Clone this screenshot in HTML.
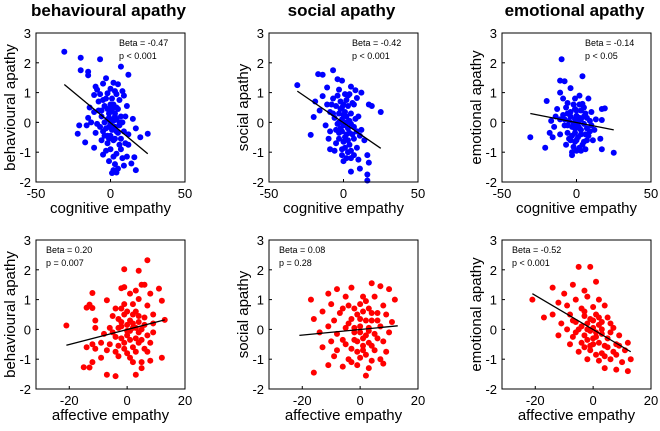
<!DOCTYPE html>
<html><head><meta charset="utf-8"><style>
body{margin:0;background:#fff;width:660px;height:426px;overflow:hidden}
svg{font-family:"Liberation Sans",Arial,sans-serif}
</style></head><body>
<svg id="c" width="660" height="426"></svg>
<script>
const titles=["behavioural apathy","social apathy","emotional apathy"];
const xLabels=["cognitive empathy","affective empathy"];
const yTicks=[-2,-1,0,1,2,3];
const xTicksTop=[-50,0,50];
const xTicksBot=[-20,0,20];
const betas=[["Beta = -0.47","p < 0.001"],["Beta = -0.42","p < 0.001"],["Beta = -0.14","p < 0.05"],["Beta = 0.20","p = 0.007"],["Beta = 0.08","p = 0.28"],["Beta = -0.52","p < 0.001"]];
const fitLines=[[-31,1.27,25,-1.05],[-31,1.05,25,-0.87],[-31,0.3,25,-0.25],[-21,-0.53,13,0.32],[-21,-0.2,13,0.12],[-21,1.2,13,-0.75]];
const ptsTL=[[-31,2.37],[-20,2.17],[-7,2.12],[7,1.87],[12,1.6],[-20,1.75],[-15,1.7],[-15,1.58],[-3,1.48],[2,1.33],[5,1.28],[-5,1.3],[-10,1.2],[-9,1.1],[0,1.13],[3,1.05],[8,1.05],[-11,0.92],[-7,0.95],[-2,0.98],[4,0.95],[9,0.9],[-8,0.7],[-4,0.55],[0,0.6],[6,0.75],[11,0.55],[-14,0.5],[-11,0.35],[-2,0.45],[1,0.38],[3,0.3],[7,0.2],[-15,0.15],[-6,0.2],[-1,0.15],[4,0.1],[10,0.2],[15,0.12],[-21,-0.1],[-16,-0.1],[-9,-0.05],[-4,0],[0,-0.05],[3,-0.15],[6,-0.1],[-22,-0.38],[-10,-0.35],[-5,-0.3],[1,-0.25],[5,-0.35],[9,-0.3],[17,-0.2],[20,-0.5],[25,-0.38],[-17,-0.67],[-11,-0.85],[-6,-0.6],[-2,-0.7],[2,-0.6],[7,-0.55],[12,-0.75],[-5,-1.08],[0,-0.9],[4,-1.05],[8,-1.2],[11,-1.15],[16,-1.17],[-1,-1.3],[3,-1.4],[9,-1.45],[14,-1.38],[2,-1.6],[5,-1.55],[1,-1.7],[4,-1.68],[17,-1.6],[-3,-0.2],[2,0.05],[-1,0.3],[0,-0.45],[5,0.45],[-7,-0.15],
[-3,0.8],[1,0.8],[-6,0.4],[2,0.6],[4,0.5],[-2,0.1],[1,0.1],[3,0.2],[-4,-0.45],[-1,-0.55],[3,-0.55],[6,-0.75],[-3,-0.95],[2,-1.15],[7,-0.9],[-8,0.4],[-13,0.0],[8,0.0],[12,-0.4],[-1,-0.15],[4,-0.3],[-5,0.75],[6,0.0],[1,0.5],[-2,-0.45],[10,-0.7]];
const ptsTM=[[-31,1.25],[-7,1.75],[-17,1.62],[-14,1.6],[-4,1.45],[-1,1.4],[5,1.2],[8,1.08],[-11,1.17],[-3,1.1],[1,0.95],[4,0.95],[12,1.0],[-14,0.88],[-7,0.8],[-2,0.7],[2,0.75],[9,0.82],[-19,0.7],[-11,0.6],[-5,0.55],[3,0.55],[7,0.6],[17,0.6],[19,0.55],[25,0.35],[-16,0.4],[-9,0.35],[-3,0.3],[1,0.35],[5,0.3],[10,0.2],[-20,0.18],[-6,0.15],[-1,0.1],[4,0.05],[8,0.12],[-12,-0.1],[-4,-0.05],[0,-0.1],[3,-0.2],[7,-0.15],[12,-0.25],[-22,-0.42],[-9,-0.3],[-3,-0.35],[2,-0.4],[6,-0.4],[11,-0.45],[14,-0.6],[-10,-0.55],[-5,-0.7],[0,-0.65],[4,-0.75],[9,-0.85],[-9,-0.9],[-6,-0.95],[-1,-0.9],[3,-1.0],[7,-1.1],[16,-1.1],[0,-1.3],[5,-1.2],[10,-1.25],[17,-1.35],[5,-1.65],[11,-1.55],[16,-1.75],[16,-1.95],[2,0.2],[-2,-0.2],[1,-0.5],[-1,0.5],
[-4,0.9],[0,0.6],[3,0.9],[-7,0.3],[-2,0.45],[2,0.0],[5,-0.05],[-5,-0.25],[-1,-0.3],[3,-0.6],[7,-0.55],[-3,-0.55],[1,-0.85],[5,-0.95],[-1,-1.1],[9,-0.3],[-8,0.6],[6,0.65],[0,0.25],[-3,0.0],[4,-0.35],[2,-1.2]];
const ptsTR=[[-10,2.12],[4,1.55],[-11,1.4],[-8,1.38],[-4,1.15],[-11,1.0],[2,0.9],[-9,0.8],[-1,0.8],[8,0.8],[-20,0.72],[-6,0.65],[4,0.62],[17,0.45],[19,0.47],[-13,0.45],[-7,0.5],[-1,0.45],[3,0.4],[10,0.35],[-14,0.2],[-9,0.25],[-4,0.2],[0,0.22],[6,0.3],[13,0.1],[-17,0.05],[-11,0.1],[-5,0.05],[1,0.0],[5,-0.05],[9,0.05],[17,0.08],[-15,-0.15],[-8,-0.1],[-3,-0.15],[2,-0.2],[7,-0.2],[12,-0.25],[-31,-0.5],[-18,-0.35],[-11,-0.4],[-6,-0.35],[-1,-0.35],[3,-0.4],[8,-0.45],[16,-0.55],[-16,-0.5],[-4,-0.6],[0,-0.6],[5,-0.65],[11,-0.6],[-21,-0.85],[-7,-0.75],[-2,-0.82],[2,-0.85],[6,-0.9],[17,-0.9],[-3,-1.0],[-3,-1.1],[0,-0.95],[25,-1.02],[1,-0.1],[-1,0.1],[3,0.1],
[-2,0.6],[2,0.6],[5,0.5],[-4,0.35],[0,0.4],[7,0.15],[-6,-0.1],[-1,-0.2],[3,-0.25],[6,-0.4],[-3,-0.45],[1,-0.5],[4,-0.75],[-5,-0.55],[9,-0.3],[-8,0.1],[-2,-0.05],[2,0.15],[5,0.2],[-1,-0.65],[7,-0.6],[3,-0.95],[-6,0.3],[10,-0.1]];
const ptsBL=[[7,2.32],[-1,2.02],[4,1.97],[6,1.5],[5,1.5],[-12,1.22],[-1,1.42],[1,1.2],[-2,1.38],[3,1.3],[8,1.2],[11,1.37],[-7,0.98],[4,1.02],[7,0.8],[12,0.96],[-13,0.83],[-12,0.72],[-14,0.73],[-4,0.7],[-2,0.7],[0,0.6],[2,0.5],[6,0.4],[9,0.5],[-11,0.3],[-5,0.45],[-3,0.35],[1,0.3],[4,0.25],[9,0.2],[13,0.32],[-21,0.13],[-11,0.05],[-6,0.05],[-2,0.1],[2,0.05],[5,0.0],[9,-0.1],[-8,-0.15],[-4,-0.25],[0,-0.2],[3,-0.3],[7,-0.2],[-12,-0.5],[-14,-0.6],[-9,-0.45],[-6,-0.5],[-1,-0.45],[4,-0.45],[8,-0.45],[-11,-0.65],[-7,-0.7],[-4,-0.75],[0,-0.8],[3,-0.75],[6,-0.65],[-12,-1.1],[-9,-0.95],[-3,-0.9],[2,-1.1],[5,-1.1],[8,-1.05],[12,-0.95],[-15,-1.27],[-13,-1.28],[-7,-1.52],[-4,-1.57],[3,-1.52],[5,-1.3],[-2,0.25],[1,-0.05],[2,0.2],
[-1,0.5],[3,0.6],[-3,0.05],[0,0.15],[4,-0.1],[1,-0.35],[-2,-0.3],[5,-0.35],[2,-0.6],[-1,-0.65],[6,0.15],[-5,-0.1],[2,0.85],[-1,0.85],[4,0.45],[0,-0.05],[3,0.05],[-3,-0.55],[1,-0.95],[7,-0.75]];
const ptsBM=[[4,1.55],[7,1.45],[-8,1.35],[-3,1.4],[-17,1.0],[-11,1.2],[-5,1.1],[1,1.1],[5,1.1],[10,1.35],[12,1.0],[-10,0.85],[-4,0.8],[0,0.85],[3,0.7],[8,0.8],[-13,0.6],[-7,0.55],[-1,0.5],[4,0.55],[9,0.5],[-16,0.35],[-9,0.3],[-3,0.35],[2,0.3],[6,0.3],[11,0.25],[-11,0.1],[-5,0.05],[0,0.1],[3,0.05],[7,0.1],[-14,-0.1],[-8,-0.15],[-2,-0.1],[2,-0.2],[5,-0.15],[10,-0.1],[-10,-0.4],[-6,-0.35],[-1,-0.4],[3,-0.45],[8,-0.4],[-13,-0.6],[-8,-0.7],[-3,-0.65],[1,-0.7],[5,-0.7],[9,-0.75],[-9,-0.9],[-4,-1.0],[0,-0.95],[4,-1.05],[7,-1.0],[-16,-1.45],[-11,-1.2],[-6,-1.25],[-1,-1.2],[3,-1.3],[8,-1.15],[2,-1.55],[-2,0.05],[1,-0.3],
[-2,0.7],[1,0.6],[4,0.3],[-4,0.2],[0,-0.1],[3,-0.05],[6,-0.3],[-2,-0.35],[1,-0.55],[4,-0.55],[-5,-0.5],[-1,-0.75],[6,0.55],[2,0.95],[-6,0.7],[0,0.35],[2,-0.85],[-3,-1.1]];
const ptsBR=[[-21,1.0],[-5,2.1],[-1,2.1],[1,1.6],[-14,1.4],[-10,1.2],[-7,1.5],[-3,1.3],[-12,0.9],[-6,1.0],[-2,1.1],[2,1.0],[-9,0.8],[-4,0.7],[0,0.75],[4,0.8],[-17,0.4],[-14,0.5],[-8,0.5],[-3,0.45],[1,0.5],[5,0.4],[-11,0.2],[-6,0.25],[-2,0.2],[2,0.15],[6,0.2],[-9,0.0],[-5,0.0],[-1,-0.05],[3,0.0],[7,0.05],[-12,-0.2],[-7,-0.25],[-3,-0.2],[1,-0.25],[5,-0.3],[9,-0.2],[-8,-0.5],[-4,-0.45],[0,-0.5],[4,-0.55],[8,-0.5],[12,-0.45],[-5,-0.75],[-1,-0.7],[3,-0.8],[7,-0.75],[11,-0.7],[-2,-1.0],[2,-1.05],[6,-1.0],[10,-1.1],[13,-1.0],[4,-1.3],[8,-1.35],[12,-1.4],[-3,0.6],[0,0.3],[1,-0.1],
[-1,0.35],[2,0.4],[-4,0.1],[0,0.05],[3,-0.15],[6,-0.1],[-2,-0.35],[2,-0.45],[5,-0.6],[-1,-0.55],[1,-0.85],[4,-0.9],[8,-0.85],[-6,-0.1],[-7,0.3],[3,0.25],[-2,0.0],[0,-0.3],[9,-0.55],[-3,-0.6]];
const allPts=[ptsTL,ptsTM,ptsTR,ptsBL,ptsBM,ptsBR];

const svg=document.getElementById('c');const NS='http://www.w3.org/2000/svg';
function mk(t,a,p){const e=document.createElementNS(NS,t);for(const k in a)e.setAttribute(k,a[k]);(p||svg).appendChild(e);return e;}
const colX=[36,269,502],rowY=[33,240],W=149,H=149;
for(let c=0;c<3;c++){const t=mk('text',{x:colX[c]+W/2-2,y:16,'text-anchor':'middle','font-size':17,'font-weight':'bold'});t.textContent=titles[c];

}
for(let r=0;r<2;r++)for(let c=0;c<3;c++){
 const i=r*3+c,x0=colX[c],y0=rowY[r];
 const xmin=r==0?-50:-31.5,xmax=r==0?50:20;
 const X=v=>x0+(v-xmin)/(xmax-xmin)*W, Y=v=>y0+(3-v)/5*H;
 const g=mk('g',{});
 
 
 const col=r==0?'#0000ff':'#ff0000';
 for(const p of allPts[i]){const d=mk('circle',{cx:X(p[0]),cy:Y(p[1]),r:3,fill:col},g);
  
  }
 const f=fitLines[i];
 const l=mk('line',{x1:X(f[0]),y1:Y(f[1]),x2:X(f[2]),y2:Y(f[3]),stroke:'#000','stroke-width':1.3},g);
 
 
 const b=mk('rect',{x:x0,y:y0,width:W,height:H,fill:'none',stroke:'#000','stroke-width':1},g);
 
 
 for(const v of yTicks){const t=mk('text',{x:x0-5,y:Y(v)+5,'text-anchor':'end','font-size':13},g);t.textContent=v;
  
  
  mk('line',{x1:x0,x2:x0+3,y1:Y(v),y2:Y(v),stroke:'#000'},g);}
 for(const v of (r==0?xTicksTop:xTicksBot)){const t=mk('text',{x:X(v),y:y0+H+16,'text-anchor':'middle','font-size':13},g);t.textContent=v;
  
  
  mk('line',{x1:X(v),x2:X(v),y1:y0+H,y2:y0+H-3,stroke:'#000'},g);}
 const xl=mk('text',{x:x0+W/2,y:y0+H+31,'text-anchor':'middle','font-size':15},g);xl.textContent=xLabels[r];
 
 
 const yl=mk('text',{transform:`translate(${x0-21},${y0+H/2}) rotate(-90)`,'text-anchor':'middle','font-size':15},g);yl.textContent=titles[c];
 
 
 const bx=r==0?x0+W-66:x0+10;
 const t1=mk('text',{x:bx,y:y0+13,'font-size':9},g);t1.textContent=betas[i][0];
 
 
 const t2=mk('text',{x:bx,y:y0+26,'font-size':9},g);t2.textContent=betas[i][1];
 
 
}
</script>
</body></html>
